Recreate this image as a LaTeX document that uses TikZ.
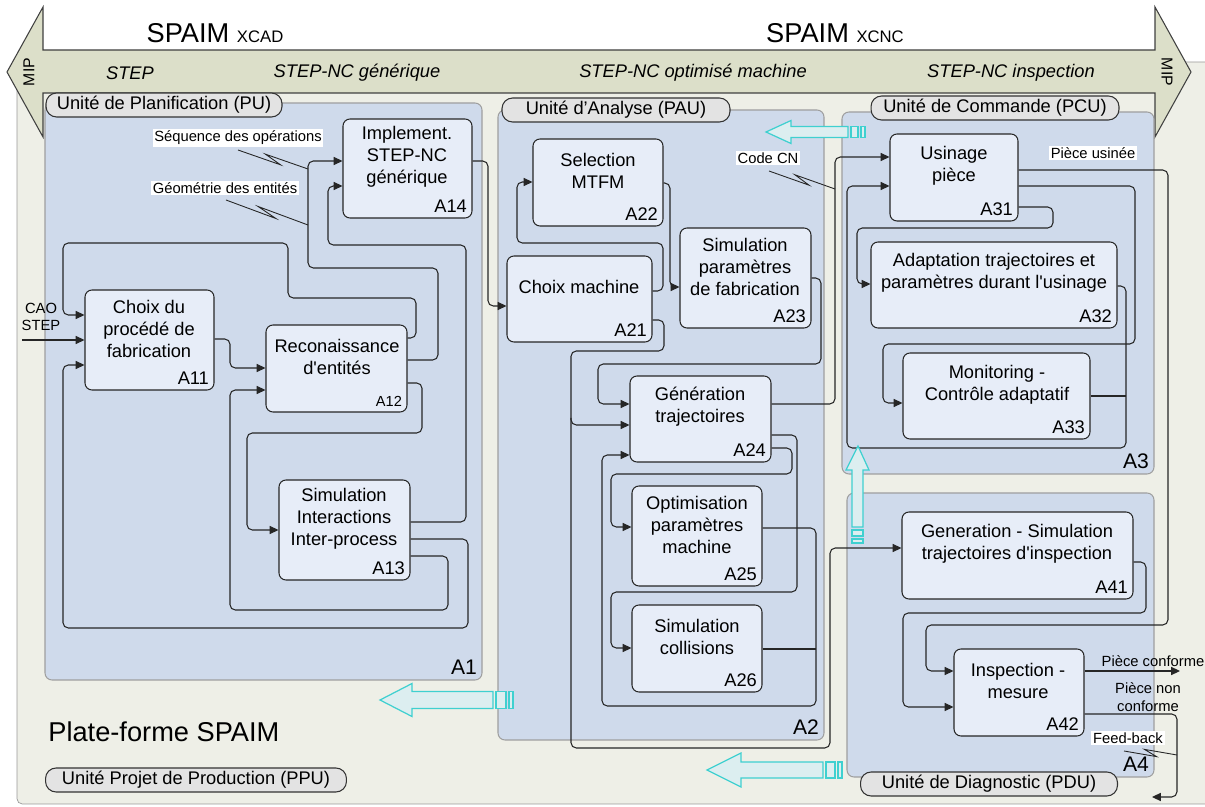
\documentclass[tikz,border=0pt]{standalone}
\usepackage{fontspec}
\setmainfont{Liberation Sans}
\usetikzlibrary{arrows.meta,calc,fit}

\definecolor{platform}{HTML}{EEEFE7}
\definecolor{band}{HTML}{DCDFC9}
\definecolor{panelfill}{HTML}{CFDAEB}
\definecolor{boxfill}{HTML}{E7EDF8}
\definecolor{unitfill}{HTML}{E3E3E3}
\definecolor{cyanfill}{HTML}{DCEEF0}
\definecolor{cyanline}{HTML}{3FD0D0}

\begin{document}
\begin{tikzpicture}[x=0.02cm, y=-0.02cm,
  panel/.style={draw=gray!75, fill=panelfill, rounded corners=4pt, inner sep=0pt, line width=0.6pt},
  panelid/.style={anchor=south east, inner sep=3pt, font=\fontsize{12}{14}\selectfont},
  unit/.style={draw=black!80, fill=unitfill, rounded corners=6pt, minimum height=0.48cm, inner sep=0pt, line width=0.6pt, font=\fontsize{10.4}{12}\selectfont},
  actbox/.style={draw=black!85, fill=boxfill, rounded corners=4pt, inner sep=0pt, line width=0.6pt},
  acttxt/.style={align=center, inner sep=0pt, font=\fontsize{10.4}{12.5}\selectfont},
  actid/.style={anchor=south east, inner sep=3pt, font=\fontsize{10.4}{12}\selectfont},
  conn/.style={draw=black!85, line width=0.6pt, rounded corners=3pt},
  arr/.style={conn, -{Triangle[length=5pt,width=4.6pt]}},
  note/.style={fill=white, inner sep=1pt, font=\fontsize{8.4}{10}\selectfont},
  lbl/.style={align=center, inner sep=0pt, font=\fontsize{8.4}{10}\selectfont},
  bandtxt/.style={font=\fontsize{10.4}{12}\selectfont\itshape},
  cyanarrow/.style={draw=cyanline, fill=cyanfill, line width=0.7pt}]
\useasboundingbox (0,0) rectangle (1205,807);

% platform and format banner
\draw[draw=gray!80, fill=platform, rounded corners=3pt] (17,62) rectangle (1230,804);
\draw[draw=black!75, fill=band, line width=0.6pt] (7,72) -- (43,7) -- (43,50) -- (1155,50) -- (1155,7) -- (1191,72)
  -- (1155,137) -- (1155,93) -- (43,93) -- (43,137) -- cycle;
\node (xcad) at (215,33) {\fontsize{15.5}{18}\selectfont SPAIM \fontsize{9.5}{11}\selectfont XCAD};
\node (xcnc) at (835,33) {\fontsize{15.5}{18}\selectfont SPAIM \fontsize{9.5}{11}\selectfont XCNC};
\node[rotate=90, font=\fontsize{9}{10}\selectfont] (mip-l) at (29,72) {MIP};
\node[rotate=-90, font=\fontsize{9}{10}\selectfont] (mip-r) at (1167,72) {MIP};
\foreach \x/\t [count=\i] in {130/STEP, 357/STEP-NC générique, 693/STEP-NC optimisé machine, 1011/STEP-NC inspection}
  \node[bandtxt] (fmt\i) at (\x,73) {\t};

% units
\node[panel, fit={(45,103) (482,680)}] (PU) {};
\node[panel, fit={(498,110) (824,740)}] (PAU) {};
\node[panel, fit={(842,112) (1154,474)}] (PCU) {};
\node[panel, fit={(847,493) (1154,777)}] (PDU) {};
\foreach \p/\a in {PU/A1, PAU/A2, PCU/A3, PDU/A4}
  \node[panelid] (\a) at (\p.south east) {\a};
\node[unit, minimum width=4.72cm] (PU-lbl) at (164,105) {Unité de Planification (PU)};
\node[unit, minimum width=4.56cm] (PAU-lbl) at (616,110) {Unité d’Analyse (PAU)};
\node[unit, minimum width=4.96cm] (PCU-lbl) at (995,108) {Unité de Commande (PCU)};
\node[unit, minimum width=5.14cm] (PDU-lbl) at (989,784) {Unité de Diagnostic (PDU)};
\node[unit, minimum width=6.02cm] (PPU-lbl) at (196,780) {Unité Projet de Production (PPU)};
\node[anchor=west, inner sep=0pt, font=\fontsize{15.5}{18}\selectfont] (spaim) at (48,732) {Plate-forme SPAIM};

% activities
\foreach \n/\xa/\ya/\xb/\yb in {A11/85/290/214/390, A12/266/325/407/412, A13/279/480/410/580, A14/343/119/472/218,
    A21/507/256/652/342, A22/533/139/663/226, A23/680/228/811/328, A24/630/376/771/462, A25/632/486/762/586,
    A26/632/605/762/692, A31/890/134/1018/221, A32/871/242/1117/328, A33/903/353/1090/439,
    A41/902/512/1133/599, A42/954/649/1084/736}
  \node[actbox, fit={(\xa,\ya) (\xb,\yb)}] (\n) {};
\foreach \n/\x/\y/\t in {A11/149/329/{Choix du\\procédé de\\fabrication}, A12/337/357/{Reconaissance\\d\textquotesingle entités},
    A13/344/519/{Simulation\\Interactions\\Inter-process}, A14/407/157/{Implement.\\STEP-NC\\générique},
    A21/579/287/{Choix machine}, A22/598/171/{Selection\\MTFM}, A23/745/267/{Simulation\\paramètres\\de fabrication},
    A24/700/407/{Génération\\trajectoires}, A25/697/525/{Optimisation\\paramètres\\machine},
    A26/697/637/{Simulation\\collisions}, A31/954/166/{Usinage\\pièce},
    A32/994/273/{Adaptation trajectoires et\\paramètres durant l\textquotesingle usinage},
    A33/997/385/{Monitoring -\\Contrôle adaptatif}, A41/1017/544/{Generation - Simulation\\trajectoires d\textquotesingle inspection},
    A42/1018/681/{Inspection -\\mesure}}
  \node[acttxt] (\n-txt) at (\x,\y) {\t};
\foreach \n in {A11,A13,A14,A21,A22,A23,A24,A25,A26,A31,A32,A33,A41,A42}
  \node[actid] (\n-id) at (\n.south east) {\n};
\node[actid, font=\fontsize{8.3}{10}\selectfont] (A12-id) at (A12.south east) {A12};

% flows in A1
\coordinate (in-cao) at (22,340);
\node[lbl] (cao) at (41,317) {CAO\\STEP};
\draw[arr] (in-cao) -- (A11.west |- 0,340);
\draw[arr] (A11.east |- 0,339) -| (230,368) -- (A12.west |- 0,368);
\draw[arr] (A12.east |- 0,338) -- (416,338) -- (416,298) -- (288,298) -- (288,243) -- (63,243) -- (63,315) -- (A11.west |- 0,315);
\draw[arr] (A12.east |- 0,360) -- (438,360) -- (438,268) -- (308,268) -- (308,161) -- (A14.west |- 0,161);
\draw[arr] (A13.east |- 0,522) -- (466,522) -- (466,245) -- (328,245) -- (328,186) -- (A14.west |- 0,186);
\draw[arr] (A13.east |- 0,539) -- (468,539) -- (468,628) -- (63,628) -- (63,365) -- (A11.west |- 0,365);
\draw[arr] (A13.east |- 0,556) -- (448,556) -- (448,610) -- (230,610) -- (230,390) -- (A12.west |- 0,390);
\draw[arr] (A12.east |- 0,383) -- (422,383) -- (422,433) -- (247,433) -- (247,530) -- (A13.west |- 0,530);
\draw[arr] (A14.east |- 0,161) -- (488,161) -- (488,306) -- (A21.west |- 0,306);

% flows in A2
\draw[arr] (A21.east |- 0,291) -- (663,291) -- (663,243) -- (517,243) -- (517,182) -- (A22.west |- 0,182);
\draw[arr] (A22.east |- 0,183) -- (670,183) -- (670,287) -- (A23.west |- 0,287);
\draw[arr] (A23.east |- 0,278) -- (821,278) -- (821,364) -- (598,364) -- (598,404) -- (A24.west |- 0,404);
\draw[arr] (A21.east |- 0,320) -- (664,320) -- (664,351) -- (571,351) -- (571,425) -- (A24.west |- 0,425);
\coordinate (j21) at (571,418);
\draw[arr] (j21) -- (571,748) -- (830,748) -- (830,548) -- (A41.west |- 0,548);
\draw[arr] (A24.east |- 0,404) -- (835,404) -- (835,157) -- (A31.west |- 0,157);
\draw[arr] (A24.east |- 0,435) -- (797,435) -- (797,592) -- (611,592) -- (611,648) -- (A26.west |- 0,648);
\draw[arr] (A24.east |- 0,448) -- (792,448) -- (792,474) -- (611,474) -- (611,527) -- (A25.west |- 0,527);
\draw[arr] (A25.east |- 0,528) -- (816,528) -- (816,706) -- (602,706) -- (602,455) -- (A24.west |- 0,455);
\coordinate (j26) at (816,649);
\draw[conn] (A26.east |- 0,649) -- (j26);

% flows in A3 and A4
\draw[arr] (A31.east |- 0,170) -- (1168,170) -- (1168,625) -- (926,625) -- (926,671) -- (A42.west |- 0,671);
\draw[arr] (A31.east |- 0,186) -- (1135,186) -- (1135,344) -- (883,344) -- (883,403) -- (A33.west |- 0,403);
\draw[arr] (A31.east |- 0,207) -- (1053,207) -- (1053,228) -- (857,228) -- (857,284) -- (A32.west |- 0,284);
\draw[arr] (A32.east |- 0,286) -- (1126,286) -- (1126,448) -- (847,448) -- (847,186) -- (A31.west |- 0,186);
\coordinate (j33) at (1126,396);
\draw[conn] (A33.east |- 0,396) -- (j33);
\draw[arr] (A41.east |- 0,562) -- (1146,562) -- (1146,613) -- (903,613) -- (903,707) -- (A42.west |- 0,707);
\coordinate (out-ok) at (1180,671);
\coordinate (out-fb) at (1152,797);
\draw[arr] (A42.east |- 0,671) -- (out-ok);
\draw[arr] (A42.east |- 0,714) -- (1177,714) -- (1177,797) -- (out-fb);

% labels and tunnel marks
\node[note] (seq) at (238,138) {Séquence des opérations};
\node[note] (geo) at (225,188) {Géométrie des entités};
\node[note] (ccn) at (768,158) {Code CN};
\node[note] (usi) at (1093,153) {Pièce usinée};
\node[note] (fbk) at (1128,738) {Feed-back};
\node[lbl] (ok) at (1153,661) {Pièce conforme};
\node[lbl] (nok) at (1148,697) {Pièce non\\conforme};
\coordinate (seq-a) at (238,150); \coordinate (seq-b) at (308,169);
\coordinate (geo-a) at (226,200); \coordinate (geo-b) at (308,225);
\coordinate (ccn-a) at (769,171); \coordinate (ccn-b) at (835,189);
\coordinate (fbk-a) at (1124,751); \coordinate (fbk-b) at (1177,755);
\foreach \m in {seq,geo,ccn,fbk}
  \draw[black!85, line width=0.5pt] (\m-a) -- ($(\m-a)!.62!(\m-b)!1.8pt!-90:(\m-b)$) -- ($(\m-a)!.38!(\m-b)!1.8pt!90:(\m-b)$) -- (\m-b);

% exchanges between units
\foreach \tx/\ty/\bx/\hh/\bh/\ex/\bw in {766/132/791/11.5/5.5/848/7, 380/700/412/16.5/8.5/493/10, 707/770/741/17/8/823/9}{
  \draw[cyanarrow] (\tx,\ty) -- (\bx,\ty-\hh) -- (\bx,\ty-\bh) -- (\ex,\ty-\bh) -- (\ex,\ty+\bh) -- (\bx,\ty+\bh) -- (\bx,\ty+\hh) -- cycle;
  \draw[cyanarrow] (\ex+3,\ty-\bh) rectangle (\ex+3+\bw,\ty+\bh);
  \draw[cyanarrow] (\ex+6+\bw,\ty-\bh) rectangle (\ex+10+\bw,\ty+\bh);
}
\draw[cyanarrow] (858,446) -- (869,470) -- (863,470) -- (863,527) -- (852,527) -- (852,470) -- (846,470) -- cycle;
\draw[cyanarrow] (852,530) rectangle (863,536);
\draw[cyanarrow] (852,539) rectangle (863,543);
\end{tikzpicture}
\end{document}
